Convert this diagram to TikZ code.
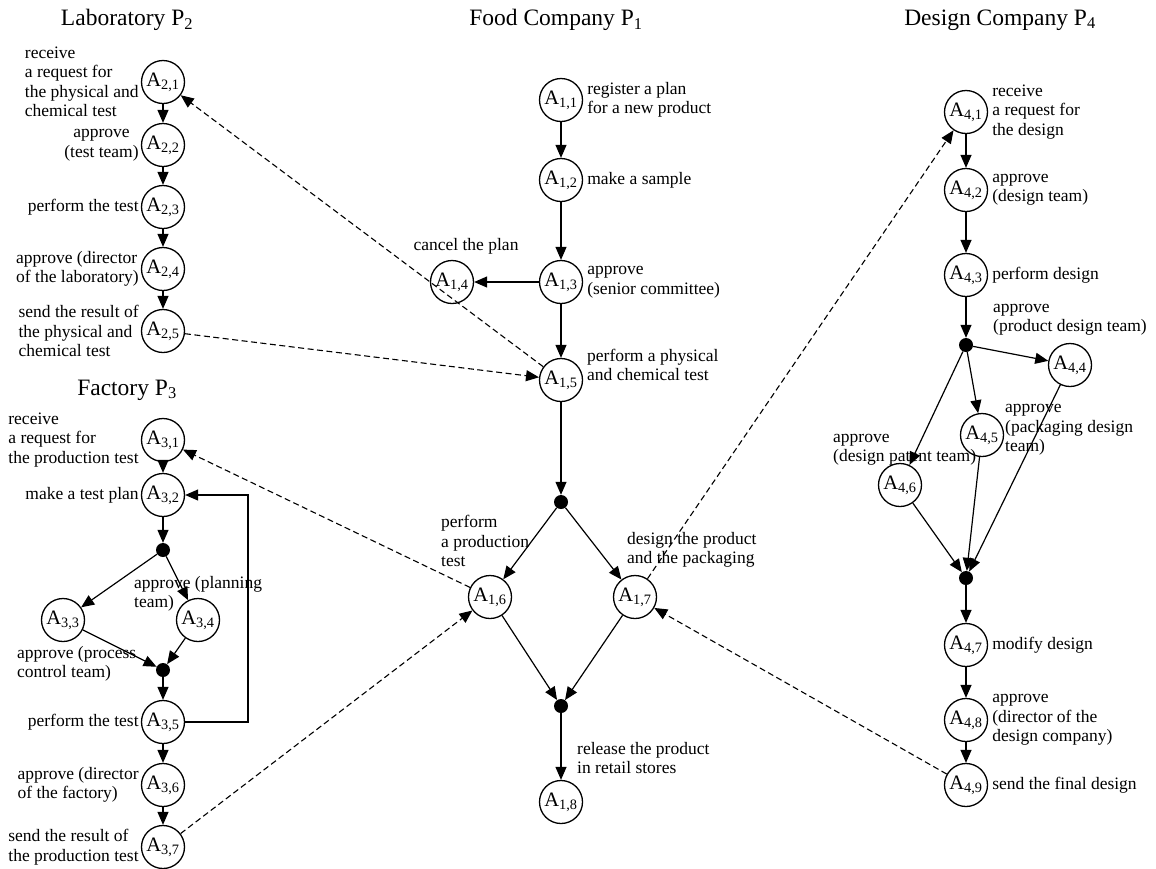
\documentclass[tikz,border=0pt]{standalone}
\usepackage{fontspec}
\setmainfont{Liberation Serif}
\usepackage{tikz}
\usetikzlibrary{arrows.meta,positioning,calc}
\newcommand{\act}[2]{A\textsubscript{#1,#2}}
\tikzset{
  act/.style={circle,draw=black,line width=1.3pt,fill=white,minimum size=43pt,inner sep=0pt,font=\fontsize{20.5}{20.5}\selectfont},
  junc/.style={circle,fill=black,minimum size=14pt,inner sep=0pt},
  flow/.style={line width=1.2pt,-{Triangle[length=13pt,width=11pt]}},
  msg/.style={line width=1.1pt,dash pattern=on 6pt off 3.5pt,-{Triangle[length=13pt,width=11pt]}},
  lbl/.style={font=\fontsize{17.5}{19.5}\selectfont,inner sep=1pt},
  ttl/.style={font=\fontsize{23.5}{25}\selectfont}
}

\begin{document}
\begin{tikzpicture}[x=1pt,y=-1pt]
\useasboundingbox (0,0) rectangle (1156,868);

\node[ttl] (tp2) at (127,20) {Laboratory P\textsubscript{2}};
\node[ttl] (tp1) at (556,20) {Food Company P\textsubscript{1}};
\node[ttl] (tp4) at (1000,20) {Design Company P\textsubscript{4}};
\node[ttl] (tp3) at (127,390) {Factory P\textsubscript{3}};

\foreach \n/\y in {1/82,2/145,3/207,4/269,5/331}{
\node[act] (a2\n) at (163,\y) {\act{2}{\n}};
}
\foreach \n/\y in {1/440,2/495,5/722,6/785,7/847}{
\node[act] (a3\n) at (163,\y) {\act{3}{\n}};
}
\node[act] (a33) at (63,620) {\act{3}{3}};
\node[act] (a34) at (198,620) {\act{3}{4}};
\node[junc] (j31) at (163,550) {};
\node[junc] (j32) at (163,670) {};

\foreach \n/\y in {1/100,2/180,3/282,5/380,8/802}{
\node[act] (a1\n) at (561,\y) {\act{1}{\n}};
}
\node[act] (a14) at (452,282) {\act{1}{4}};
\node[act] (a16) at (490,597) {\act{1}{6}};
\node[act] (a17) at (635,597) {\act{1}{7}};
\node[junc] (j11) at (561,502) {};
\node[junc] (j12) at (561,706) {};

\foreach \n/\y in {1/112,2/190,3/275,7/645,8/720,9/785}{
\node[act] (a4\n) at (966,\y) {\act{4}{\n}};
}
\node[act] (a44) at (1070,365) {\act{4}{4}};
\node[act] (a45) at (982,435) {\act{4}{5}};
\node[act] (a46) at (900,485) {\act{4}{6}};
\node[junc] (j41) at (966,345) {};
\node[junc] (j42) at (966,578) {};

\node[lbl,left=1pt of a21,align=left] (l21) {receive\\a request for\\the physical and\\chemical test};
\node[lbl,left=1pt of a22,align=center] (l22) {approve\\(test team)};
\node[lbl,left=1pt of a23] (l23) {perform the test};
\node[lbl,left=1pt of a24,align=left] (l24) {approve (director\\of the laboratory)};
\node[lbl,left=1pt of a25,align=left] (l25) {send the result of\\the physical and\\chemical test};
\node[lbl,left=1pt of a31,align=left] (l31) {receive\\a request for\\the production test};
\node[lbl,left=1pt of a32] (l32) {make a test plan};
\node[lbl,anchor=west,align=left] (l34) at (133,594) {approve (planning\\team)};
\node[lbl,anchor=west,align=left] (l3j) at (16,664) {approve (process\\control team)};
\node[lbl,left=1pt of a35] (l35) {perform the test};
\node[lbl,left=1pt of a36,align=left] (l36) {approve (director\\of the factory)};
\node[lbl,left=1pt of a37,align=left] (l37) {send the result of\\the production test};

\node[lbl,right=3pt of a11,align=left] (l11) {register a plan\\for a new product};
\node[lbl,right=3pt of a12] (l12) {make a sample};
\node[lbl,right=3pt of a13,align=left] (l13) {approve\\(senior committee)};
\node[lbl] (l14) at (466,246) {cancel the plan};
\node[lbl,anchor=west,align=left] (l15) at (586,365) {perform a physical\\and chemical test};
\node[lbl,anchor=west,align=left] (l16) at (440,541) {perform\\a production\\test};
\node[lbl,anchor=west,align=left] (l17) at (626,550) {design the product\\and the packaging};
\node[lbl,anchor=west,align=left] (l18) at (576,758) {release the product\\in retail stores};

\node[lbl,right=3pt of a41,align=left] (l41) {receive\\a request for\\the design};
\node[lbl,right=3pt of a42,align=left] (l42) {approve\\(design team)};
\node[lbl,right=3pt of a43] (l43) {perform design};
\node[lbl,anchor=west,align=left] (l4j) at (992,320) {approve\\(product design team)};
\node[lbl,anchor=west,align=left] (l45) at (1004,430) {approve\\(packaging design\\team)};
\node[lbl,anchor=west,align=left] (l46) at (832,450) {approve\\(design patent team)};
\node[lbl,right=3pt of a47] (l47) {modify design};
\node[lbl,right=3pt of a48,align=left] (l48) {approve\\(director of the\\design company)};
\node[lbl,right=3pt of a49] (l49) {send the final design};

\foreach \s/\t in {a21/a22,a22/a23,a23/a24,a24/a25,
  a31/a32,a32/j31,j31/a33,j31/a34,a33/j32,a34/j32,j32/a35,a35/a36,a36/a37,
  a11/a12,a12/a13,a13/a14,a13/a15,a15/j11,j11/a16,j11/a17,a16/j12,a17/j12,j12/a18,
  a41/a42,a42/a43,a43/j41,j41/a44,j41/a45,j41/a46,a44/j42,a45/j42,a46/j42,j42/a47,a47/a48,a48/a49}{
\draw[flow] (\s) -- (\t);
}
\draw[flow] (a35.east) -- (248,722) -- (248,495) -- (a32.east);

\foreach \s/\t in {a15/a21,a25/a15,a16/a31,a37/a16,a17/a41,a49/a17}{
\draw[msg] (\s) -- (\t);
}
\end{tikzpicture}
\end{document}
